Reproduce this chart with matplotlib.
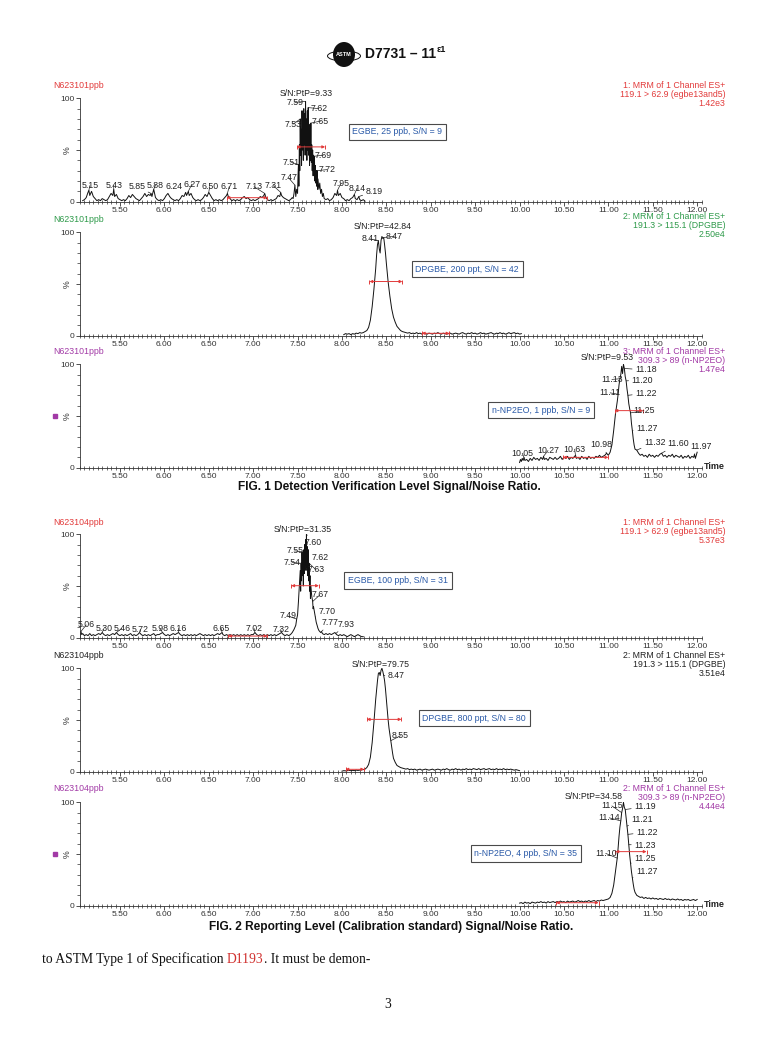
import matplotlib.pyplot as plt
import numpy as np
from matplotlib.patches import Ellipse
from matplotlib.ticker import MultipleLocator, FixedLocator

plt.rcParams['font.family'] = ['Liberation Sans', 'DejaVu Sans']

W, H = 778, 1041
X0, AXW, AXH = 80, 621.6, 103.4
RED, GREEN, PURPLE, BLUE, DARK = '#e23b3b', '#2e9a4a', '#a23aa6', '#2a5aa8', '#222222'
FS = 6.3  # chart text size

xtick_vals = [5.50, 6.00, 6.50, 7.00, 7.50, 8.00, 8.50, 9.00, 9.50,
              10.00, 10.50, 11.00, 11.50, 12.00]

# ---- traces: (time, %) ----
egbe25 = [(5.08, 1), (5.10, 2), (5.12, 4), (5.14, 9), (5.15, 11), (5.16, 6), (5.18, 10), (5.20, 5),
          (5.22, 3), (5.24, 1), (5.26, 2), (5.28, 1), (5.30, 3), (5.32, 2), (5.34, 1), (5.36, 2),
          (5.38, 5), (5.40, 8), (5.42, 6), (5.43, 12), (5.44, 5), (5.46, 7), (5.48, 3), (5.50, 2),
          (5.52, 1), (5.54, 2), (5.56, 1), (5.58, 3), (5.60, 6), (5.62, 4), (5.64, 7), (5.66, 5),
          (5.68, 3), (5.70, 2), (5.72, 1), (5.74, 3), (5.76, 5), (5.78, 8), (5.80, 5), (5.82, 7),
          (5.84, 6), (5.85, 8), (5.86, 5), (5.88, 12), (5.90, 4), (5.92, 2), (5.94, 1), (5.96, 2),
          (5.98, 1), (6.00, 3), (6.02, 6), (6.04, 8), (6.06, 5), (6.08, 3), (6.10, 2), (6.12, 1),
          (6.14, 2), (6.16, 1), (6.18, 3), (6.20, 6), (6.22, 5), (6.24, 9), (6.25, 6), (6.27, 10),
          (6.28, 6), (6.30, 8), (6.32, 4), (6.34, 2), (6.36, 1), (6.38, 2), (6.40, 1), (6.42, 2),
          (6.44, 4), (6.46, 7), (6.48, 5), (6.50, 9), (6.52, 6), (6.54, 3), (6.56, 1), (6.58, 2),
          (6.60, 1), (6.62, 2), (6.64, 1), (6.66, 2), (6.68, 4), (6.70, 6), (6.71, 8), (6.72, 5),
          (6.74, 3), (6.76, 1), (6.78, 2), (6.80, 1), (6.82, 2), (6.84, 1), (6.86, 2), (6.88, 4),
          (6.90, 5), (6.92, 3), (6.94, 4), (6.96, 2), (6.98, 1), (7.00, 2), (7.02, 1), (7.04, 2),
          (7.06, 3), (7.08, 5), (7.10, 4), (7.12, 6), (7.13, 8), (7.14, 5), (7.16, 2), (7.18, 1),
          (7.20, 2), (7.22, 1), (7.24, 2), (7.26, 3), (7.28, 6), (7.30, 5), (7.31, 9), (7.32, 6),
          (7.34, 4), (7.36, 3), (7.38, 2), (7.40, 1), (7.42, 2), (7.44, 4), (7.45, 3), (7.46, 8),
          (7.47, 16), (7.48, 5), (7.49, 12), (7.50, 8), (7.505, 25), (7.51, 36), (7.515, 15),
          (7.52, 55), (7.525, 30), (7.53, 80), (7.535, 45), (7.54, 70), (7.545, 35), (7.55, 88),
          (7.555, 50), (7.56, 75), (7.565, 40), (7.57, 90), (7.575, 55), (7.58, 85), (7.585, 45),
          (7.59, 97), (7.595, 60), (7.60, 80), (7.605, 40), (7.61, 88), (7.615, 50), (7.62, 91),
          (7.625, 45), (7.63, 70), (7.635, 35), (7.64, 75), (7.645, 40), (7.65, 76), (7.655, 38),
          (7.66, 55), (7.665, 30), (7.67, 50), (7.675, 25), (7.68, 45), (7.685, 28), (7.69, 44),
          (7.695, 20), (7.70, 35), (7.705, 18), (7.71, 30), (7.715, 15), (7.72, 30), (7.725, 12),
          (7.73, 22), (7.74, 12), (7.75, 18), (7.76, 8), (7.77, 12), (7.78, 5), (7.79, 8), (7.80, 3),
          (7.82, 2), (7.84, 3), (7.86, 1), (7.88, 2), (7.90, 4), (7.92, 8), (7.94, 6), (7.95, 11),
          (7.96, 6), (7.98, 8), (8.00, 4), (8.02, 3), (8.04, 1), (8.06, 2), (8.08, 1), (8.10, 3),
          (8.12, 4), (8.14, 7), (8.15, 3), (8.17, 2), (8.19, 5), (8.20, 2), (8.22, 1), (8.24, 2),
          (8.26, 0.5)]

dpgbe200 = [(8.02, 1), (8.04, 2), (8.06, 1.5), (8.08, 2), (8.10, 1), (8.12, 2), (8.14, 1.5),
            (8.16, 2.5), (8.18, 2), (8.20, 3), (8.22, 2.5), (8.24, 3), (8.26, 4), (8.28, 5),
            (8.30, 8), (8.32, 15), (8.34, 28), (8.36, 45), (8.38, 65), (8.39, 78), (8.40, 88),
            (8.41, 92), (8.42, 84), (8.43, 80), (8.44, 92), (8.45, 96), (8.46, 94), (8.47, 95),
            (8.48, 88), (8.49, 80), (8.50, 70), (8.52, 52), (8.54, 38), (8.56, 26), (8.58, 18),
            (8.60, 13), (8.62, 9), (8.64, 7), (8.66, 5), (8.68, 4), (8.70, 3.5), (8.72, 3),
            (8.74, 2.5), (8.76, 3), (8.78, 2), (8.80, 2.5), (8.82, 2), (8.84, 3), (8.86, 2),
            (8.88, 2.5), (8.90, 1.5), (8.92, 2.5), (8.94, 2), (8.96, 1.5), (8.98, 2.5), (9.00, 2),
            (9.02, 1.5), (9.04, 2.5), (9.06, 2), (9.08, 3), (9.10, 2), (9.12, 1.5), (9.14, 2.5),
            (9.16, 2), (9.18, 1.5), (9.20, 2), (9.22, 2.5), (9.24, 1.5), (9.26, 2), (9.28, 2.5),
            (9.30, 2), (9.32, 1.5), (9.34, 2.5), (9.36, 3), (9.38, 2), (9.40, 1.5), (9.42, 2.5),
            (9.44, 2), (9.46, 3), (9.48, 2), (9.50, 2.5), (9.52, 1.5), (9.54, 2), (9.56, 3),
            (9.58, 2), (9.60, 2.5), (9.62, 1.5), (9.64, 2), (9.66, 2.5), (9.68, 3), (9.70, 2),
            (9.72, 1.5), (9.74, 2.5), (9.76, 2), (9.78, 3), (9.80, 2), (9.82, 2.5), (9.84, 1.5),
            (9.86, 2), (9.88, 3), (9.90, 2), (9.92, 2.5), (9.94, 3), (9.96, 2), (9.98, 2.5),
            (10.00, 1.5), (10.02, 2)]

np2eo1 = [(10.00, 5), (10.01, 8), (10.02, 6), (10.03, 9), (10.04, 7), (10.05, 10), (10.06, 7),
          (10.08, 8), (10.10, 6), (10.12, 9), (10.14, 7), (10.16, 10), (10.18, 8), (10.20, 9),
          (10.22, 7), (10.24, 10), (10.26, 8), (10.27, 11), (10.28, 8), (10.30, 9), (10.32, 7),
          (10.34, 10), (10.36, 9), (10.38, 8), (10.40, 10), (10.42, 8), (10.44, 9), (10.46, 11),
          (10.48, 8), (10.50, 10), (10.52, 9), (10.54, 11), (10.56, 8), (10.58, 10), (10.60, 9),
          (10.62, 11), (10.63, 12), (10.64, 9), (10.66, 10), (10.68, 8), (10.70, 11), (10.72, 9),
          (10.74, 10), (10.76, 8), (10.78, 11), (10.80, 9), (10.82, 10), (10.84, 9), (10.86, 11),
          (10.88, 10), (10.90, 12), (10.92, 10), (10.94, 11), (10.96, 12), (10.98, 14), (11.00, 12),
          (11.02, 15), (11.04, 22), (11.06, 36), (11.08, 52), (11.10, 64), (11.11, 71), (11.12, 80),
          (11.13, 86), (11.14, 90), (11.15, 98), (11.16, 91), (11.17, 100), (11.18, 96), (11.19, 88),
          (11.20, 84), (11.21, 76), (11.22, 70), (11.23, 62), (11.24, 57), (11.25, 53), (11.26, 43),
          (11.27, 36), (11.28, 28), (11.29, 22), (11.30, 18), (11.32, 17), (11.34, 14), (11.36, 12),
          (11.38, 13), (11.40, 11), (11.42, 12), (11.44, 10), (11.46, 13), (11.48, 11), (11.50, 12),
          (11.52, 10), (11.54, 12), (11.56, 11), (11.58, 13), (11.60, 14), (11.62, 11), (11.64, 12),
          (11.66, 10), (11.68, 12), (11.70, 11), (11.72, 13), (11.74, 10), (11.76, 12), (11.78, 11),
          (11.80, 10), (11.82, 12), (11.84, 9), (11.86, 11), (11.88, 10), (11.90, 12), (11.92, 9),
          (11.94, 11), (11.96, 10), (11.97, 13), (11.98, 9), (12.00, 15)]

egbe100 = [(5.05, 1), (5.06, 6), (5.07, 3), (5.08, 4), (5.10, 2), (5.12, 3), (5.14, 2), (5.16, 4),
           (5.18, 2), (5.20, 3), (5.22, 2), (5.24, 3), (5.26, 4), (5.28, 3), (5.30, 5), (5.32, 3),
           (5.34, 2), (5.36, 3), (5.38, 2), (5.40, 3), (5.42, 4), (5.44, 3), (5.46, 5), (5.48, 3),
           (5.50, 2), (5.52, 3), (5.54, 2), (5.56, 3), (5.58, 2), (5.60, 3), (5.62, 4), (5.64, 2),
           (5.66, 3), (5.68, 2), (5.70, 3), (5.72, 5), (5.74, 3), (5.76, 2), (5.78, 3), (5.80, 2),
           (5.82, 3), (5.84, 2), (5.86, 3), (5.88, 4), (5.90, 2), (5.92, 3), (5.94, 3), (5.96, 4),
           (5.98, 5), (6.00, 3), (6.02, 2), (6.04, 3), (6.06, 2), (6.08, 3), (6.10, 4), (6.12, 3),
           (6.14, 4), (6.16, 5), (6.18, 3), (6.20, 2), (6.22, 3), (6.24, 2), (6.26, 3), (6.28, 2),
           (6.30, 3), (6.32, 2), (6.34, 3), (6.36, 2), (6.38, 3), (6.40, 4), (6.42, 3), (6.44, 2),
           (6.46, 3), (6.48, 2), (6.50, 3), (6.52, 2), (6.54, 3), (6.56, 2), (6.58, 3), (6.60, 4),
           (6.62, 3), (6.65, 5), (6.66, 3), (6.68, 2), (6.70, 3), (6.72, 2), (6.74, 3), (6.76, 2),
           (6.78, 3), (6.80, 2), (6.82, 3), (6.84, 2), (6.86, 3), (6.88, 2), (6.90, 3), (6.92, 2),
           (6.94, 3), (6.96, 2), (6.98, 3), (7.00, 3), (7.02, 5), (7.04, 3), (7.06, 2), (7.08, 3),
           (7.10, 2), (7.12, 3), (7.14, 2), (7.16, 3), (7.18, 2), (7.20, 3), (7.22, 2), (7.24, 3),
           (7.26, 2), (7.28, 3), (7.30, 4), (7.32, 5), (7.34, 3), (7.36, 2), (7.38, 3), (7.40, 2),
           (7.42, 3), (7.44, 5), (7.46, 8), (7.48, 12), (7.49, 18), (7.50, 22), (7.51, 35),
           (7.52, 50), (7.53, 65), (7.535, 45), (7.54, 72), (7.545, 55), (7.55, 83), (7.555, 60),
           (7.56, 75), (7.565, 50), (7.57, 85), (7.575, 62), (7.58, 90), (7.585, 70), (7.59, 95),
           (7.595, 65), (7.60, 100), (7.605, 68), (7.61, 88), (7.615, 60), (7.62, 85), (7.625, 55),
           (7.63, 72), (7.635, 45), (7.64, 60), (7.645, 38), (7.65, 50), (7.66, 40), (7.67, 35),
           (7.675, 28), (7.68, 30), (7.69, 25), (7.70, 20), (7.71, 15), (7.72, 12), (7.73, 9),
           (7.74, 7), (7.75, 6), (7.76, 5), (7.77, 6), (7.78, 4), (7.80, 3), (7.82, 4), (7.84, 3),
           (7.86, 4), (7.88, 3), (7.90, 4), (7.92, 5), (7.93, 4), (7.94, 3), (7.96, 2), (7.98, 3),
           (8.00, 2), (8.02, 3), (8.04, 2), (8.06, 1), (8.08, 2), (8.10, 3), (8.12, 2), (8.14, 1),
           (8.16, 2), (8.18, 3), (8.20, 2), (8.22, 1), (8.24, 1)]

dpgbe800 = [(8.00, 0.5), (8.02, 1), (8.04, 0.8), (8.06, 1), (8.08, 1.2), (8.10, 1), (8.12, 1.3),
            (8.14, 1), (8.16, 1.5), (8.18, 1.2), (8.20, 1.5), (8.22, 1.8), (8.24, 2), (8.26, 2.5),
            (8.28, 4), (8.30, 7), (8.32, 14), (8.34, 28), (8.36, 48), (8.38, 70), (8.40, 88),
            (8.41, 95), (8.42, 96), (8.43, 93), (8.44, 98), (8.45, 100), (8.46, 97), (8.47, 93),
            (8.48, 88), (8.49, 80), (8.50, 70), (8.51, 60), (8.52, 50), (8.53, 42), (8.54, 36),
            (8.55, 30), (8.56, 24), (8.57, 18), (8.58, 13), (8.60, 9), (8.62, 6), (8.64, 5),
            (8.66, 4), (8.68, 3.5), (8.70, 3), (8.72, 2.5), (8.74, 3), (8.76, 2), (8.78, 2.5),
            (8.80, 2), (8.82, 2.5), (8.84, 1.5), (8.86, 2), (8.88, 2.5), (8.90, 1.5), (8.92, 2),
            (8.94, 2.5), (8.96, 2), (8.98, 1.5), (9.00, 2), (9.02, 2.5), (9.04, 1.5), (9.06, 2),
            (9.08, 2.5), (9.10, 2), (9.12, 1.5), (9.14, 2.5), (9.16, 2), (9.18, 3), (9.20, 2),
            (9.22, 1.5), (9.24, 2.5), (9.26, 2), (9.28, 3), (9.30, 2), (9.32, 2.5), (9.34, 1.5),
            (9.36, 2.5), (9.38, 2), (9.40, 3), (9.42, 2), (9.44, 2.5), (9.46, 2), (9.48, 3),
            (9.50, 2.5), (9.52, 2), (9.54, 3), (9.56, 2), (9.58, 2.5), (9.60, 3), (9.62, 2),
            (9.64, 2.5), (9.66, 3), (9.68, 2), (9.70, 2.5), (9.72, 2), (9.74, 3), (9.76, 2),
            (9.78, 2.5), (9.80, 2), (9.82, 3), (9.84, 2), (9.86, 2.5), (9.88, 2), (9.90, 2.5),
            (9.92, 2), (9.94, 1.5), (9.96, 2), (9.98, 1.5), (10.00, 1)]

np2eo4 = [(10.00, 2.5), (10.02, 3), (10.04, 2), (10.06, 3.5), (10.08, 2.5), (10.10, 3), (10.12, 2),
          (10.14, 3.5), (10.16, 3), (10.18, 2.5), (10.20, 3.5), (10.22, 3), (10.24, 4), (10.26, 3),
          (10.28, 3.5), (10.30, 2.5), (10.32, 4), (10.34, 3), (10.36, 3.5), (10.38, 4), (10.40, 3),
          (10.42, 4), (10.44, 3.5), (10.46, 4.5), (10.48, 3.5), (10.50, 4), (10.52, 3), (10.54, 4.5),
          (10.56, 3.5), (10.58, 4), (10.60, 4.5), (10.62, 3.5), (10.64, 4), (10.66, 5), (10.68, 4),
          (10.70, 4.5), (10.72, 3.5), (10.74, 4.5), (10.76, 4), (10.78, 5), (10.80, 4), (10.82, 4.5),
          (10.84, 5), (10.86, 4), (10.88, 5), (10.90, 4.5), (10.92, 5.5), (10.94, 5), (10.96, 5.5),
          (10.98, 6), (11.00, 6.5), (11.02, 8), (11.04, 12), (11.06, 20), (11.08, 33), (11.10, 46),
          (11.11, 56), (11.12, 67), (11.13, 76), (11.14, 82), (11.15, 90), (11.16, 94), (11.17, 100),
          (11.18, 95), (11.19, 93), (11.20, 85), (11.21, 77), (11.22, 69), (11.23, 59), (11.24, 49),
          (11.25, 41), (11.26, 33), (11.27, 27), (11.28, 21), (11.29, 16), (11.30, 13), (11.32, 10),
          (11.34, 9), (11.36, 8), (11.38, 8.5), (11.40, 7), (11.42, 8), (11.44, 7), (11.46, 7.5),
          (11.48, 6.5), (11.50, 7.5), (11.52, 6.5), (11.54, 7), (11.56, 6), (11.58, 7), (11.60, 6.5),
          (11.62, 6), (11.64, 7), (11.66, 6), (11.68, 6.5), (11.70, 5.5), (11.72, 6.5), (11.74, 6),
          (11.76, 5.5), (11.78, 6.5), (11.80, 5.5), (11.82, 6), (11.84, 5), (11.86, 6), (11.88, 5.5),
          (11.90, 6), (11.92, 5), (11.94, 5.5), (11.96, 6), (11.98, 5), (12.00, 6)]

# ---- peak labels and where their text sits ----
egbe25_labels = ['7.59', '7.62', '7.53', '7.65', '7.69', '7.51', '7.72', '7.47', '5.15', '5.43',
                 '5.85', '5.88', '6.24', '6.27', '6.50', '6.71', '7.13', '7.31', '7.95', '8.14', '8.19']
egbe25_pos = [(7.47, 96), (7.74, 90), (7.45, 75), (7.76, 78), (7.79, 45), (7.43, 38), (7.83, 31),
              (7.40, 23), (5.16, 15.5), (5.43, 16), (5.69, 14.5), (5.90, 16), (6.11, 14.5),
              (6.31, 17), (6.51, 14.5), (6.73, 14.5), (7.01, 14.5), (7.22, 16), (7.99, 18),
              (8.17, 13), (8.36, 10)]

dpgbe200_labels = ['8.41', '8.47']
dpgbe200_pos = [(8.32, 93.6), (8.59, 96)]

np2eo1_labels = ['11.18', '11.13', '11.20', '11.11', '11.22', '11.25', '11.27', '11.32', '11.60',
                 '11.97', '10.98', '10.63', '10.27', '10.05']
np2eo1_pos = [(11.42, 94.5), (11.04, 85.4), (11.38, 84.6), (11.02, 72.4), (11.42, 72), (11.40, 55.2),
              (11.43, 38.3), (11.52, 24.4), (11.78, 23), (12.04, 20.5), (10.92, 22), (10.62, 17.9),
              (10.32, 16.6), (10.03, 14)]

egbe100_labels = ['7.60', '7.55', '7.62', '7.54', '7.63', '7.67', '7.70', '7.49', '7.77', '7.93',
                  '5.06', '5.30', '5.46', '5.72', '5.98', '6.16', '6.65', '7.02', '7.32']
egbe100_pos = [(7.68, 92), (7.47, 84), (7.75, 78), (7.44, 72.6), (7.71, 65.5), (7.75, 41.3),
               (7.83, 25.8), (7.39, 21), (7.87, 14.5), (8.05, 12.9), (5.12, 12.3), (5.32, 9),
               (5.52, 9), (5.73, 8), (5.95, 9), (6.16, 9), (6.64, 9), (7.01, 9), (7.31, 8)]

dpgbe800_labels = ['8.47', '8.55']
dpgbe800_pos = [(8.61, 92.6), (8.66, 34.8)]

np2eo4_labels = ['11.15', '11.19', '11.14', '11.21', '11.22', '11.23', '11.10', '11.25', '11.27']
np2eo4_pos = [(11.04, 96.5), (11.41, 95.8), (11.01, 85), (11.38, 83.5), (11.43, 71), (11.41, 58.7),
              (10.97, 50.6), (11.41, 45.2), (11.43, 32.9)]

sn_texts = ['S/N:PtP=9.33', 'S/N:PtP=42.84', 'S/N:PtP=9.53',
            'S/N:PtP=31.35', 'S/N:PtP=79.75', 'S/N:PtP=34.58']
sn_pos = [(7.60, 104.8), (8.46, 105.2), (10.99, 106.5), (7.56, 104.2), (8.44, 104), (10.84, 105.5)]

width_bars = [(7.49, 7.81, 53), (8.31, 8.68, 52.4), (11.07, 11.39, 55.2),
              (7.43, 7.74, 50.3), (8.28, 8.67, 50.6), (11.08, 11.43, 52.3)]
noise_bars = [(6.70, 7.16, 3.9), (8.90, 9.21, 2.3), (10.49, 11.0, 10),
              (6.72, 7.16, 1.6), (8.04, 8.25, 2.3), (10.41, 10.89, 2.9)]

box_texts = ['EGBE, 25 ppb, S/N = 9', 'DPGBE, 200 ppt, S/N = 42', 'n-NP2EO, 1 ppb, S/N = 9',
             'EGBE, 100 ppb, S/N = 31', 'DPGBE, 800 ppt, S/N = 80', 'n-NP2EO, 4 ppb, S/N = 35']
box_pos = [(8.625, 67.7), (9.41, 64.3), (10.24, 55.7), (8.63, 55.3), (9.49, 51.9), (10.07, 50.6)]

samples = ['N623101ppb'] * 3 + ['N623104ppb'] * 3
channels = [('1: MRM of 1 Channel ES+', '119.1 > 62.9 (egbe13and5)', '1.42e3'),
            ('2: MRM of 1 Channel ES+', '191.3 > 115.1 (DPGBE)', '2.50e4'),
            ('3: MRM of 1 Channel ES+', '309.3 > 89 (n-NP2EO)', '1.47e4'),
            ('1: MRM of 1 Channel ES+', '119.1 > 62.9 (egbe13and5)', '5.37e3'),
            ('2: MRM of 1 Channel ES+', '191.3 > 115.1 (DPGBE)', '3.51e4'),
            ('2: MRM of 1 Channel ES+', '309.3 > 89 (n-NP2EO)', '4.44e4')]
head_colors = [RED, GREEN, PURPLE, RED, DARK, PURPLE]

traces = [egbe25, dpgbe200, np2eo1, egbe100, dpgbe800, np2eo4]
labels = [egbe25_labels, dpgbe200_labels, np2eo1_labels, egbe100_labels, dpgbe800_labels, np2eo4_labels]
label_pos = [egbe25_pos, dpgbe200_pos, np2eo1_pos, egbe100_pos, dpgbe800_pos, np2eo4_pos]

# layout (pixel rows of each zero line, label offsets above the 100 line)
zero_rows = [201.7, 335.7, 467.7, 637.7, 771.7, 905.7]
left_dy = [13, 13, 12.5, 12, 12.5, 14]
right_dy = [13, 15.5, 13, 12, 12.5, 14]
marked = [False, False, True, False, False, True]

fig = plt.figure(figsize=(W / 100, H / 100), dpi=100)
bg = fig.add_axes([0, 0, 1, 1], zorder=-1)
bg.set_xlim(0, W)
bg.set_ylim(H, 0)
bg.axis('off')


def red_bar(ax, x0, x1, yv):
    ax.annotate('', xy=(x0, yv), xytext=(x1, yv),
                arrowprops=dict(arrowstyle='<|-|>', color=RED, lw=0.7, mutation_scale=4,
                                shrinkA=0, shrinkB=0))
    ax.plot([x0, x1], [yv, yv], ls='none', marker='|', ms=3.5, mew=0.7, color=RED)


for i in range(6):
    y0 = zero_rows[i]
    ax = fig.add_axes([X0 / W, 1 - y0 / H, AXW / W, AXH / H])
    t, y = np.array(traces[i]).T
    ax.plot(t, y, color='#111111', lw=0.7)
    ax.set_xlim(5.05, 12.05)
    ax.set_ylim(0, 100)
    for s in ['top', 'right']:
        ax.spines[s].set_visible(False)
    ax.spines['left'].set_bounds(0, 100)
    for s in ['left', 'bottom']:
        ax.spines[s].set_linewidth(0.6)
        ax.spines[s].set_color('#333333')
    ax.xaxis.set_major_locator(FixedLocator(xtick_vals))
    ax.set_xticklabels([f'{v:.2f}' for v in xtick_vals])
    ax.xaxis.set_minor_locator(MultipleLocator(0.05))
    ax.set_yticks([0, 50, 100])
    ax.set_yticklabels(['0', '', '100'])
    ax.yaxis.set_minor_locator(MultipleLocator(10))
    ax.tick_params(which='major', length=3, width=0.6, color='#333333', labelsize=6,
                   labelcolor='#333333', pad=1)
    ax.tick_params(which='minor', length=2, width=0.5, color='#333333')
    ax.tick_params(axis='x', which='minor', direction='inout', length=3)
    ax.patch.set_alpha(0)

    ax.text(-0.021, 0.5, '%', transform=ax.transAxes, rotation=90, ha='center', va='center',
            fontsize=FS, color='#333333')
    if marked[i]:
        ax.plot([-0.040], [0.5], transform=ax.transAxes, marker='s', ms=3.2, color=PURPLE,
                clip_on=False)
        ax.text(12.07, 1, 'Time', ha='left', va='center', fontsize=6.5, fontweight='bold',
                color=DARK)

    # header texts
    c = head_colors[i]
    ax.text(-0.0435, 1 + left_dy[i] / AXH, samples[i], transform=ax.transAxes, ha='left',
            va='center', fontsize=FS, color=c)
    for k, line in enumerate(channels[i]):
        ax.text(1.0386, 1 + (right_dy[i] - 9.0 * k) / AXH, line, transform=ax.transAxes,
                ha='right', va='center', fontsize=FS, color=c)

    # peak labels with leaders
    for lab, (tx, ty) in zip(labels[i], label_pos[i]):
        pt = float(lab)
        py = np.interp(pt, t, y)
        ax.annotate(lab, xy=(pt, py), xytext=(tx, ty), ha='center', va='center', fontsize=FS,
                    color=DARK, annotation_clip=False,
                    arrowprops=dict(arrowstyle='-', lw=0.5, color=DARK, shrinkA=0, shrinkB=0))
    ax.text(sn_pos[i][0], sn_pos[i][1], sn_texts[i], ha='center', va='center', fontsize=FS,
            color=DARK)

    red_bar(ax, *width_bars[i])
    red_bar(ax, *noise_bars[i])

    ax.text(box_pos[i][0], box_pos[i][1], box_texts[i], ha='center', va='center', fontsize=FS,
            color=BLUE, bbox=dict(boxstyle='square,pad=0.42', fc='white', ec='#4a4a4a', lw=0.8))

# captions
bg.text(389, 486.7, 'FIG. 1 Detection Verification Level Signal/Noise Ratio.', ha='center',
        va='center', fontsize=8.6, fontweight='bold', color='#111111')
bg.text(391, 926.7, 'FIG. 2 Reporting Level (Calibration standard) Signal/Noise Ratio.',
        ha='center', va='center', fontsize=8.6, fontweight='bold', color='#111111')

# page header with logo
bg.add_patch(Ellipse((344, 54.5), 22, 25, fc='#111111', ec='none'))
bg.add_patch(Ellipse((344, 56), 33, 10, fc='none', ec='#111111', lw=0.7))
bg.text(344, 54.5, 'ASTM', ha='center', va='center', fontsize=4, fontweight='bold',
        color='white')
r = fig.canvas.get_renderer()
hd = bg.text(365, 54, 'D7731 – 11', ha='left', va='center', fontsize=10, fontweight='bold',
             color='#111111')
x_end = hd.get_window_extent(r).x1
bg.text(x_end + 1, 50, 'ε1', ha='left', va='center', fontsize=6.5, fontweight='bold',
        color='#111111')

# body text below the figures
serif = ['Liberation Serif', 'DejaVu Serif']
parts = [('to ASTM Type 1 of Specification ', '#111111'), ('D1193', '#d0302e'),
         ('. It must be demon-', '#111111')]
xcur = 42
for txt, col in parts:
    tt = bg.text(xcur, 963, txt, ha='left', va='baseline', fontsize=9.8, family=serif, color=col)
    xcur = tt.get_window_extent(r).x1
bg.text(388, 1005, '3', ha='center', va='center', fontsize=9.8, family=serif, color='#111111')

fig.savefig('out.png', dpi=100)
